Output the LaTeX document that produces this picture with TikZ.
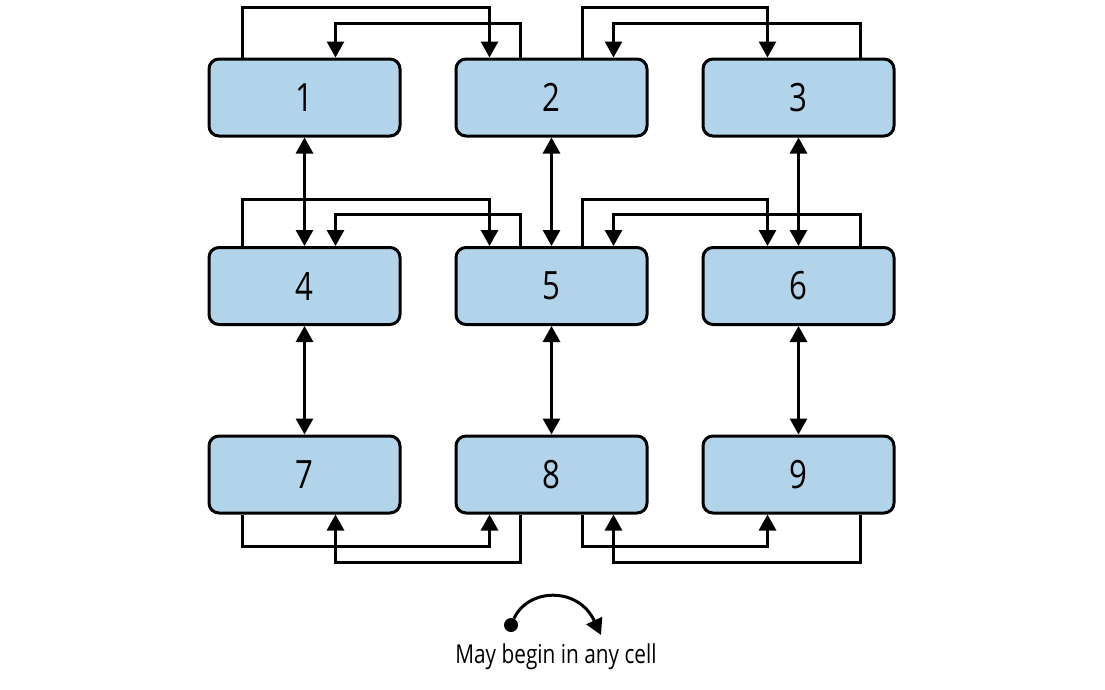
\documentclass[tikz,border=0pt]{standalone}
\usepackage{fontspec}
\setmainfont{Open Sans}[FakeStretch=0.8]
\usepackage{tikz}
\usetikzlibrary{arrows.meta, positioning}
\definecolor{cellblue}{RGB}{178,212,234}
\tikzstyle{cell}=[rectangle, rounded corners=10pt, draw=black, fill=cellblue, line width=3pt, minimum width=191pt, minimum height=77pt, font=\fontsize{39}{41}\selectfont]
\tikzstyle{link}=[line width=3pt, ->]
\tikzstyle{both}=[line width=3pt, <->]

\begin{document}
\begin{tikzpicture}[x=1pt, y=-1pt, node distance=108.5pt and 53pt, >={Triangle[width=17pt,length=16pt]}]
    \useasboundingbox (0,0) rectangle (1105,689);

    \node[cell] (n1) at (304.5,97.5) {1};
    \node[cell] (n2) [right=of n1] {2};
    \node[cell] (n3) [right=of n2] {3};
    \node[cell] (n4) [below=of n1] {4};
    \node[cell] (n5) [right=of n4] {5};
    \node[cell] (n6) [right=of n5] {6};
    \node[cell] (n7) [below=of n4] {7};
    \node[cell] (n8) [right=of n7] {8};
    \node[cell] (n9) [right=of n8] {9};

    % top row
    \draw[link] ([xshift=-62pt]n1.north) -- ++(0,-50) -| ([xshift=-62pt]n2.north);
    \draw[link] ([xshift=-31pt]n2.north) -- ++(0,-34) -| ([xshift=31pt]n1.north);
    \draw[link] ([xshift=31pt]n2.north) -- ++(0,-50) -| ([xshift=-31pt]n3.north);
    \draw[link] ([xshift=62pt]n3.north) -- ++(0,-34) -| ([xshift=62pt]n2.north);

    % middle row
    \draw[link] ([xshift=-62pt]n4.north) -- ++(0,-47) -| ([xshift=-62pt]n5.north);
    \draw[link] ([xshift=-31pt]n5.north) -- ++(0,-32) -| ([xshift=31pt]n4.north);
    \draw[link] ([xshift=31pt]n5.north) -- ++(0,-47) -| ([xshift=-31pt]n6.north);
    \draw[link] ([xshift=62pt]n6.north) -- ++(0,-32) -| ([xshift=62pt]n5.north);

    % bottom row
    \draw[link] ([xshift=-62pt]n7.south) -- ++(0,32) -| ([xshift=-62pt]n8.south);
    \draw[link] ([xshift=-31pt]n8.south) -- ++(0,48) -| ([xshift=31pt]n7.south);
    \draw[link] ([xshift=31pt]n8.south) -- ++(0,32) -| ([xshift=-31pt]n9.south);
    \draw[link] ([xshift=62pt]n9.south) -- ++(0,48) -| ([xshift=62pt]n8.south);

    % columns
    \draw[both] (n1) -- (n4);
    \draw[both] (n2) -- (n5);
    \draw[both] (n3) -- (n6);
    \draw[both] (n4) -- (n7);
    \draw[both] (n5) -- (n8);
    \draw[both] (n6) -- (n9);

    % key
    \node[circle, fill=black, inner sep=0pt, minimum size=14pt] (start) at (511,625) {};
    \coordinate (stop) at (601,635);
    \draw[link] (start) .. controls (528,588) and (578,586) .. (stop);
    \node (caption) at (556,657) {\fontsize{26}{28}\selectfont May begin in any cell};
\end{tikzpicture}
\end{document}
